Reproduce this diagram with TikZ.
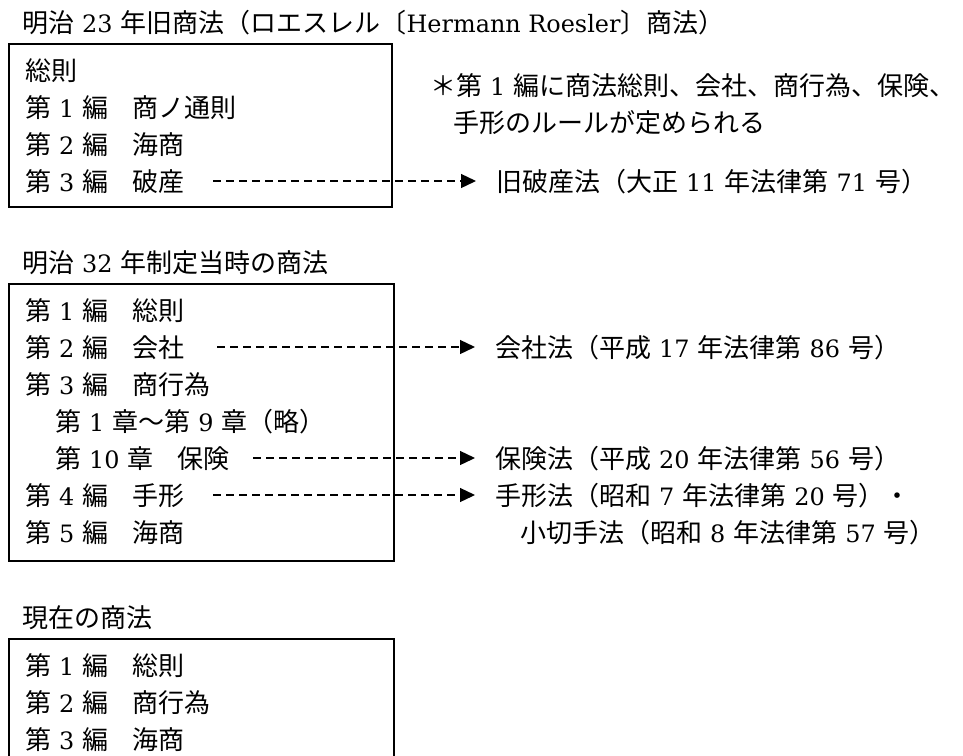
\documentclass[tikz,border=0pt]{standalone}
\usepackage{fontspec}
\setmainfont[Scale=0.92]{DejaVu Serif}
\usetikzlibrary{arrows.meta}
\newfontfamily\jp{Noto Sans CJK JP}
\newcommand{\J}[1]{{\jp #1}}
\newcommand{\D}[1]{\hspace{8pt}#1\hspace{8pt}}
\begin{document}
\begin{tikzpicture}[x=1pt,y=-1pt,
  txt/.style={font=\fontsize{26pt}{32pt}\selectfont, inner sep=0pt, anchor=base west},
  frame/.style={draw, line width=1.8pt, inner sep=0pt, anchor=north west},
  conn/.style={line width=1.3pt, dash pattern=on 8pt off 5pt, -{Triangle[length=15pt,width=14pt]}, shorten >=20pt}]
\useasboundingbox (0,0) rectangle (963,755);
\clip (0,0) rectangle (963,755);
% block 1
\node[txt] (title1) at (22,32) {\J{明治}\D{23}\J{年旧商法（ロエスレル〔}Hermann Roesler\J{〕商法）}};
\node[frame, minimum width=383pt, minimum height=163pt] (box1) at (8,43) {};
\node[txt] (r10) at (25,80) {\J{総則}};
\node[txt] (r11) at (25,117) {\J{第}\D{1}\J{編}\hspace{1em}\J{商ノ通則}};
\node[txt] (r12) at (25,154) {\J{第}\D{2}\J{編}\hspace{1em}\J{海商}};
\node[txt] (r13) at (25,191) {\J{第}\D{3}\J{編}\hspace{1em}\J{破産}};
\node[txt] (note1) at (430,95) {\J{＊第}\D{1}\J{編に商法総則、会社、商行為、保険、}};
\node[txt] (note2) at (453,132) {\J{手形のルールが定められる}};
\node[txt] (t1) at (496,191) {\J{旧破産法（大正}\D{11}\J{年法律第}\D{71}\J{号）}};
\coordinate (a1) at (213,181);
\draw[conn] (a1) -- (a1 -| t1.west);
% block 2
\node[txt] (title2) at (22,272) {\J{明治}\D{32}\J{年制定当時の商法}};
\node[frame, minimum width=385pt, minimum height=277pt] (box2) at (8,283) {};
\node[txt] (r21) at (25,320) {\J{第}\D{1}\J{編}\hspace{1em}\J{総則}};
\node[txt] (r22) at (25,357) {\J{第}\D{2}\J{編}\hspace{1em}\J{会社}};
\node[txt] (r23) at (25,394) {\J{第}\D{3}\J{編}\hspace{1em}\J{商行為}};
\node[txt] (r24) at (55,431) {\J{第}\D{1}\J{章～第}\D{9}\J{章（略）}};
\node[txt] (r25) at (55,468) {\J{第}\D{10}\J{章}\hspace{1em}\J{保険}};
\node[txt] (r26) at (25,505) {\J{第}\D{4}\J{編}\hspace{1em}\J{手形}};
\node[txt] (r27) at (25,542) {\J{第}\D{5}\J{編}\hspace{1em}\J{海商}};
\node[txt] (t2) at (495,357) {\J{会社法（平成}\D{17}\J{年法律第}\D{86}\J{号）}};
\node[txt] (t3) at (495,468) {\J{保険法（平成}\D{20}\J{年法律第}\D{56}\J{号）}};
\node[txt] (t4) at (495,505) {\J{手形法（昭和}\D{7}\J{年法律第}\D{20}\J{号）・}};
\node[txt] (t5) at (520,542) {\J{小切手法（昭和}\D{8}\J{年法律第}\D{57}\J{号）}};
\coordinate (a2) at (217,347);
\coordinate (a3) at (253,458);
\coordinate (a4) at (213,495);
\draw[conn] (a2) -- (a2 -| t2.west);
\draw[conn] (a3) -- (a3 -| t3.west);
\draw[conn] (a4) -- (a4 -| t4.west);
% block 3
\node[txt] (title3) at (22,627) {\J{現在の商法}};
\node[frame, minimum width=385pt, minimum height=140pt] (box3) at (8,638) {};
\node[txt] (r31) at (25,675) {\J{第}\D{1}\J{編}\hspace{1em}\J{総則}};
\node[txt] (r32) at (25,712) {\J{第}\D{2}\J{編}\hspace{1em}\J{商行為}};
\node[txt] (r33) at (25,749) {\J{第}\D{3}\J{編}\hspace{1em}\J{海商}};
\end{tikzpicture}
\end{document}
